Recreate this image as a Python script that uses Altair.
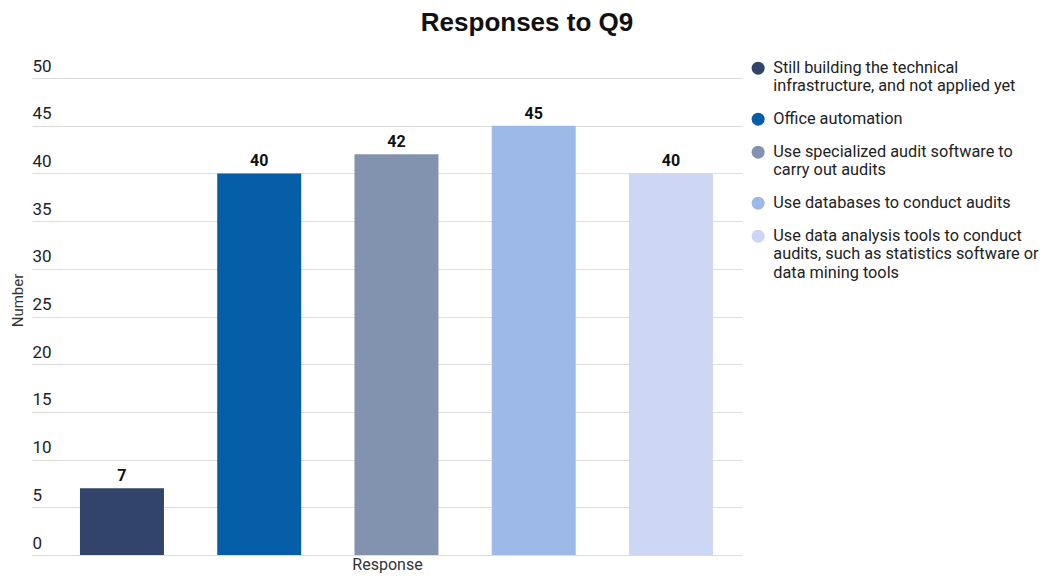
import altair as alt
import pandas as pd

categories = [
    "Still building the technical infrastructure, and not applied yet",
    "Office automation",
    "Use specialized audit software to carry out audits",
    "Use databases to conduct audits",
    "Use data analysis tools to conduct audits, such as statistics software or data mining tools",
]
label_lines = [
    ["Still building the technical", "infrastructure, and not applied yet"],
    ["Office automation"],
    ["Use specialized audit software to", "carry out audits"],
    ["Use databases to conduct audits"],
    ["Use data analysis tools to conduct", "audits, such as statistics software or", "data mining tools"],
]
values = [7, 40, 42, 45, 40]
colors = ["#32446A", "#065EA9", "#8293B0", "#9DB9E8", "#CDD6F4"]

df = pd.DataFrame({"Response": categories, "Number": values})

mapping = ", ".join(
    "'" + c.replace("'", "\\'") + "': [" + ", ".join("'" + l + "'" for l in ls) + "]"
    for c, ls in zip(categories, label_lines)
)
label_expr = "{" + mapping + "}[datum.label]"

FONT = "Roboto"

base = alt.Chart(df).encode(
    x=alt.X(
        "Response:N",
        sort=categories,
        scale=alt.Scale(paddingInner=0.388, paddingOuter=0.2805, align=0.623),
        axis=alt.Axis(
            labels=False, ticks=False, domain=False, title="Response",
            titleFont=FONT, titleFontSize=16, titleFontWeight="normal",
            titleColor="#333333", titlePadding=1, titleX=355,
        ),
    ),
    y=alt.Y(
        "Number:Q",
        scale=alt.Scale(domain=[0, 50]),
        axis=alt.Axis(
            values=[0, 5, 10, 15, 20, 25, 30, 35, 40, 45, 50],
            ticks=False, tickSize=0, domain=False,
            labelAlign="left", labelBaseline="alphabetic", labelPadding=0,
            labelOffset=-7, labelFlush=False,
            labelFont=FONT, labelFontSize=17, labelColor="#222222",
            gridColor="#DDDDDD", gridWidth=1,
            title="Number", titleFont=FONT, titleFontSize=15,
            titleFontWeight="normal", titleColor="#333333",
            titleX=-15, titleY=222, titleAngle=270,
            titleAlign="center", titleBaseline="middle",
        ),
    ),
)

bars = base.mark_bar().encode(
    color=alt.Color(
        "Response:N",
        sort=categories,
        scale=alt.Scale(domain=categories, range=colors),
        legend=alt.Legend(
            title=None, orient="none", legendX=718, legendY=-18,
            symbolType="circle", symbolSize=169, symbolStrokeWidth=0,
            labelFont=FONT, labelFontSize=16.3, labelColor="#222222",
            labelLimit=400, labelOffset=7, labelExpr=label_expr,
            rowPadding=16, padding=0,
        ),
    )
)

labels = base.mark_text(
    baseline="bottom", dy=-4, font=FONT, fontSize=16, fontWeight="bold", color="#111111"
).encode(text="Number:Q")

chart = (
    alt.layer(bars, labels)
    .properties(
        width=710,
        height=477,
        title=alt.TitleParams(
            "Responses to Q9", font="Liberation Sans", fontSize=26,
            fontWeight="bold", color="#111111", anchor="middle", dx=140, dy=-17,
        ),
        autosize=alt.AutoSizeParams(type="none"),
        padding={"left": 24, "top": 70, "right": 299, "bottom": 18},
    )
    .configure_view(stroke=None)
)

chart.save("out.html", embed_options={"renderer": "svg", "actions": False})
